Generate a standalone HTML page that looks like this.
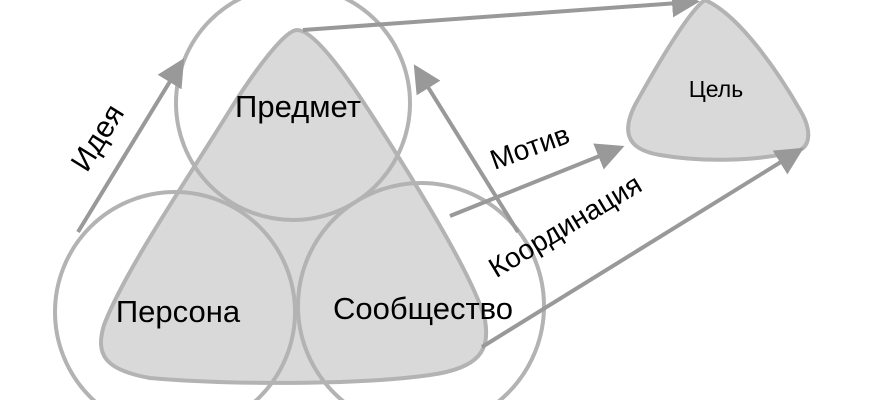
<!DOCTYPE html>
<html><head><meta charset="utf-8"><style>html,body{margin:0;padding:0;background:#fff;width:870px;height:400px;overflow:hidden}svg{display:block}</style></head><body>
<svg width="870" height="400" viewBox="0 0 870 400" xmlns="http://www.w3.org/2000/svg" font-family="'Liberation Sans', sans-serif">
<defs><marker id="ah" markerWidth="7" markerHeight="7" refX="5" refY="3.5" orient="auto" markerUnits="strokeWidth"><path d="M0,0 L7,3.5 L0,7 z" fill="#999"/></marker></defs>
<path d="M297,30 C285,30 255,70 230,110 C190,175 125,270 104,325 C95,355 105,370 150,378 C230,385 360,385 430,375 C480,368 490,350 485,320 C475,280 420,190 375,120 C340,65 312,30 297,30 Z" fill="#d9d9d9" stroke="#b3b3b3" stroke-width="4"/>
<path d="M705,0 C690,10 660,60 635,105 C620,135 630,150 660,155 C700,162 760,162 800,150 C810,145 812,130 800,110 C780,75 740,15 705,0 Z" fill="#d9d9d9" stroke="#b3b3b3" stroke-width="4"/>
<g fill="none" stroke="#b3b3b3" stroke-width="4">
<circle cx="293" cy="103" r="117"/>
<circle cx="175" cy="312" r="120"/>
<circle cx="421" cy="306" r="123"/>
</g>
<g stroke="#999" stroke-width="4" fill="none" marker-end="url(#ah)">
<line x1="78" y1="232" x2="180" y2="65"/>
<line x1="518" y1="232" x2="418" y2="71"/>
<line x1="303" y1="30" x2="692" y2="2"/>
<line x1="450" y1="216" x2="617" y2="149"/>
<line x1="482" y1="347" x2="797" y2="152"/>
</g>
<g font-size="31" fill="#000" text-anchor="middle">
<text x="298" y="117">Предмет</text>
<text x="178" y="322">Персона</text>
<text x="423" y="319">Сообщество</text>
<text x="716" y="97" font-size="23">Цель</text>
<text transform="translate(106,143) rotate(-58)" font-size="30">Идея</text>
<text transform="translate(533,156) rotate(-20)" font-size="28">Мотив</text>
<text transform="translate(570,234) rotate(-31)" font-size="28">Координация</text>
</g>
</svg>
</body></html>
